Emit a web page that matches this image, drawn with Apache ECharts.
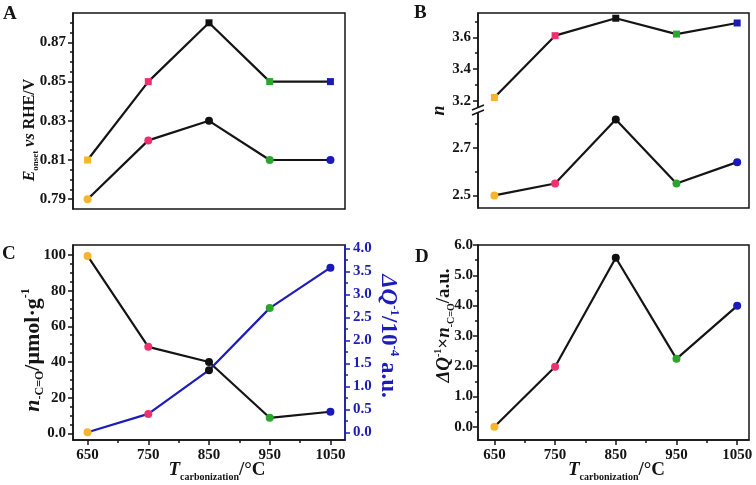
<!DOCTYPE html>
<html><head><meta charset="utf-8">
<script src="https://cdn.jsdelivr.net/npm/echarts@6/dist/echarts.min.js"></script>
<style>html,body{margin:0;padding:0;background:#fff}#c{width:756px;height:485px}</style>
</head><body><div id="c"></div>
<script>
// ---------- data ----------
const temps = [650, 750, 850, 950, 1050];
const pointColors = ['#f7b52c', '#f0306e', '#111111', '#2ca52c', '#1a1ab8'];
const aOnsetSquare = [0.81, 0.85, 0.88, 0.85, 0.85];
const aOnsetCircle = [0.79, 0.82, 0.83, 0.81, 0.81];
const bElectronSquare = [3.22, 3.61, 3.72, 3.62, 3.69];
const bElectronCircle = [2.50, 2.55, 2.82, 2.55, 2.64];
const cCarbonyl = [99.5, 48.5, 40.0, 8.7, 12.1];
const cDeltaQ = [0.0, 0.40, 1.35, 2.70, 3.58];
const dProduct = [0.0, 1.98, 5.58, 2.24, 3.99];

// tick values
const xTicks = [650, 750, 850, 950, 1050];
const xMinor = [700, 800, 900, 1000];
const aTicks = [0.79, 0.81, 0.83, 0.85, 0.87];
const aMinor = [0.795, 0.80, 0.805, 0.815, 0.82, 0.825, 0.835, 0.84, 0.845, 0.855, 0.86, 0.865, 0.875, 0.88];
const bUpTicks = [3.2, 3.4, 3.6];
const bUpMinor = [3.3, 3.5, 3.7];
const bLowTicks = [2.5, 2.7];
const bLowMinor = [2.6, 2.8];
const cLeftTicks = [0, 20, 40, 60, 80, 100];
const cLeftMinor = [5, 10, 15, 25, 30, 35, 45, 50, 55, 65, 70, 75, 85, 90, 95];
const cRightTicks = [0, 0.5, 1.0, 1.5, 2.0, 2.5, 3.0, 3.5, 4.0];
const cRightMinor = [0.25, 0.75, 1.25, 1.75, 2.25, 2.75, 3.25, 3.75];
const dTicks = [0, 1, 2, 3, 4, 5, 6];
const dMinor = [0.5, 1.5, 2.5, 3.5, 4.5, 5.5];

// ---------- style ----------
const FONT = 'Liberation Serif';
const INK = '#141414';
const BLUE = '#1c1cb8';

function rich(size, color) {
  const base = {fontFamily: FONT, fontWeight: 'bold', color: color, fontSize: size, lineHeight: size + 4};
  const small = Math.round(size * 0.55);
  return {
    i: Object.assign({}, base, {fontStyle: 'italic'}),
    b: Object.assign({}, base),
    s: Object.assign({}, base, {fontSize: small, lineHeight: small, verticalAlign: 'bottom'}),
    p: Object.assign({}, base, {fontSize: small, lineHeight: small, verticalAlign: 'top'})
  };
}
function nameStyle(size, color, pad) {
  return {fontFamily: FONT, fontWeight: 'bold', fontSize: size, color: color, rich: rich(size, color),
    padding: pad || 0};
}

function axis(c) {
  const color = c.color || INK;
  return {
    type: 'value', gridIndex: c.grid, position: c.position, min: c.min, max: c.max,
    show: c.show !== false,
    axisLine: {show: !!c.line, onZero: false, lineStyle: {color: color, width: 1.5}},
    axisTick: {show: !!c.ticks, inside: false, length: c.minor ? 3 : 5, customValues: c.ticks,
      lineStyle: {color: color, width: 1.5}},
    axisLabel: {show: !!c.ticks && !c.minor, customValues: c.ticks, margin: c.margin || 7,
      formatter: c.fmt, color: color, fontFamily: FONT, fontWeight: 'bold', fontSize: 15},
    splitLine: {show: false},
    name: c.name || '', nameLocation: 'middle', nameGap: c.gap || 0, nameMoveOverlap: false,
    nameRotate: c.rotate, nameTextStyle: c.name ? nameStyle(c.nameSize || 17, color, c.pad) : undefined
  };
}
const f1 = v => v.toFixed(1);
const f2 = v => v.toFixed(2);

function pts(vals) {
  return temps.map((t, i) => ({value: [t, vals[i]], itemStyle: {color: pointColors[i]}}));
}
function line(xi, yi, vals, symbol, color, size) {
  return {
    type: 'line', xAxisIndex: xi, yAxisIndex: yi, data: pts(vals),
    symbol: symbol, symbolSize: size, showSymbol: true,
    lineStyle: {color: color, width: 2.2}, itemStyle: {borderWidth: 0},
    emphasis: {disabled: true}, z: 3
  };
}

const frame = {show: true, borderColor: INK, borderWidth: 1.5, backgroundColor: 'transparent'};
const xName = '{i|T}{s|carbonization}{b|/°C}';

const option = {
  animation: false,
  grid: [
    Object.assign({left: 73, top: 13, width: 272, height: 196}, frame),          // A
    Object.assign({left: 478, top: 13, width: 271, height: 195}, frame),         // B frame
    {left: 478, top: 13, width: 271, height: 94},                                 // B upper
    {left: 478, top: 113, width: 271, height: 95},                                // B lower
    Object.assign({left: 73, top: 245, width: 272, height: 195}, frame),         // C
    Object.assign({left: 478, top: 245, width: 271, height: 195}, frame)         // D
  ],
  xAxis: [
    axis({grid: 0, position: 'bottom', min: 626, max: 1074}),
    axis({grid: 1, position: 'bottom', min: 0, max: 1, show: false}),
    axis({grid: 2, position: 'bottom', min: 623, max: 1069.5, show: false}),
    axis({grid: 3, position: 'bottom', min: 623, max: 1069.5, show: false}),
    axis({grid: 4, position: 'bottom', min: 626, max: 1074, line: true, ticks: xTicks, fmt: v => String(v),
      margin: 8, name: xName, gap: 19, nameSize: 19, pad: [0, 0, 0, 16]}),
    axis({grid: 4, position: 'bottom', min: 626, max: 1074, ticks: xMinor, minor: true}),
    axis({grid: 5, position: 'bottom', min: 623, max: 1069.5, line: true, ticks: xTicks, fmt: v => String(v),
      margin: 8, name: xName, gap: 19, nameSize: 19, pad: [0, 0, 0, 6]}),
    axis({grid: 5, position: 'bottom', min: 623, max: 1069.5, ticks: xMinor, minor: true})
  ],
  yAxis: [
    axis({grid: 0, position: 'left', min: 0.785, max: 0.885, line: true, ticks: aTicks, fmt: f2,
      name: '{i|E}{s|onset}{i| vs }{b|RHE/V}', gap: 33, nameSize: 16, pad: [0, 38, 0, 0]}),
    axis({grid: 0, position: 'left', min: 0.785, max: 0.885, ticks: aMinor, minor: true}),
    axis({grid: 1, position: 'left', min: 0, max: 1, name: '{i|n}', gap: 28, nameSize: 18}),
    axis({grid: 2, position: 'left', min: 3.16, max: 3.753, line: true, ticks: bUpTicks, fmt: f1}),
    axis({grid: 2, position: 'left', min: 3.16, max: 3.753, ticks: bUpMinor, minor: true}),
    axis({grid: 3, position: 'left', min: 2.447, max: 2.847, line: true, ticks: bLowTicks, fmt: f1}),
    axis({grid: 3, position: 'left', min: 2.447, max: 2.847, ticks: bLowMinor, minor: true}),
    axis({grid: 4, position: 'left', min: -3.75, max: 105.6, line: true, ticks: cLeftTicks,
      fmt: v => v === 0 ? '0.0' : String(v),
      name: '{i|n}{s|-C=O}{b|/μmol·g}{p|-1}', gap: 27, nameSize: 22, pad: [0, 15, 0, 0]}),
    axis({grid: 4, position: 'left', min: -3.75, max: 105.6, ticks: cLeftMinor, minor: true}),
    axis({grid: 4, position: 'right', min: -0.167, max: 4.072, line: true, ticks: cRightTicks, fmt: f1,
      color: BLUE, margin: 8, name: '{i|ΔQ}{p|-1}{b|/10}{p|-4}{b| a.u.}', gap: 29, rotate: -90,
      nameSize: 23, pad: [0, 13, 0, 0]}),
    axis({grid: 4, position: 'right', min: -0.167, max: 4.072, ticks: cRightMinor, minor: true, color: BLUE}),
    axis({grid: 5, position: 'left', min: -0.44, max: 6.0, line: true, ticks: dTicks, fmt: f1, margin: 5,
      name: '{i|ΔQ}{p|-1}{b|×}{i|n}{s|-C=O}{b|/a.u.}', gap: 22, nameSize: 19, pad: [0, 0, 0, 34]}),
    axis({grid: 5, position: 'left', min: -0.44, max: 6.0, ticks: dMinor, minor: true})
  ],
  series: [
    line(0, 0, aOnsetSquare, 'rect', INK, 7),
    line(0, 0, aOnsetCircle, 'circle', INK, 8),
    line(2, 3, bElectronSquare, 'rect', INK, 7),
    line(3, 5, bElectronCircle, 'circle', INK, 8),
    line(4, 7, cCarbonyl, 'circle', INK, 8),
    line(4, 9, cDeltaQ, 'circle', BLUE, 8),
    line(6, 11, dProduct, 'circle', INK, 8)
  ],
  graphic: [
    {type: 'text', x: 3, y: 5, style: {text: 'A', font: 'bold 19px "Liberation Serif"', fill: INK}},
    {type: 'text', x: 414, y: 4, style: {text: 'B', font: 'bold 19px "Liberation Serif"', fill: INK}},
    {type: 'text', x: 2, y: 245, style: {text: 'C', font: 'bold 19px "Liberation Serif"', fill: INK}},
    {type: 'text', x: 415, y: 248, style: {text: 'D', font: 'bold 19px "Liberation Serif"', fill: INK}},
    {type: 'rect', shape: {x: 471, y: 107, width: 12, height: 6}, style: {fill: '#fff'}, z: 100},
    {type: 'line', shape: {x1: 472, y1: 110, x2: 484, y2: 105}, style: {stroke: INK, lineWidth: 1.5}, z: 101},
    {type: 'line', shape: {x1: 472, y1: 115, x2: 484, y2: 110}, style: {stroke: INK, lineWidth: 1.5}, z: 101}
  ]
};

const chart = echarts.init(document.getElementById('c'), null, {renderer: 'canvas'});
chart.setOption(option);
</script>
</body></html>
